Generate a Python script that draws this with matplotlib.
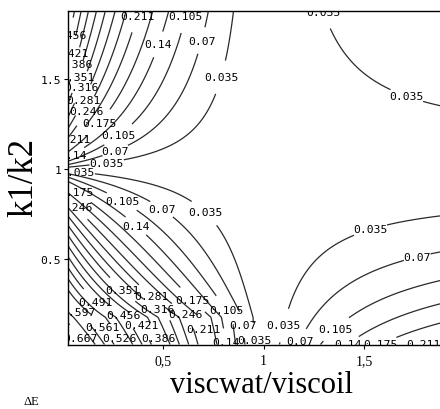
import numpy as np
import matplotlib
matplotlib.use("Agg")
import matplotlib.pyplot as plt

# ---- data -------------------------------------------------------------
levels = [0.035, 0.07, 0.105, 0.14, 0.175, 0.211, 0.246, 0.281, 0.316, 0.351,
          0.386, 0.421, 0.456, 0.491, 0.526, 0.561, 0.597, 0.632, 0.667]
level_labels = ["0.035", "0.07", "0.105", "0.14", "0.175", "0.211", "0.246", "0.281",
                "0.316", "0.351", "0.386", "0.421", "0.456", "0.491", "0.526", "0.561",
                "0.597", "0.632", "0.667"]
x_ticks = [0.5, 1.0, 1.5]
x_tick_labels = ["0,5", "1", "1,5"]
y_ticks = [0.5, 1.0, 1.5]
y_tick_labels = ["0.5", "1", "1.5"]
x_range = [0.027, 1.878]
y_range = [0.025, 1.881]

# surface model coefficients (fitted to where the picture's contours lie)
d_base = 0.08
d_r_coef_upper = 1.08
d_r_coef_lower = 1.22
d_r_pow = 0.65
d_x_coef = 1.05
d_x_rlim = 0.7


def delta_e(x, y):
    r = np.abs(1 - y) / (1 + y)
    c = np.where(y >= 1, d_r_coef_upper, d_r_coef_lower)
    k = d_x_coef * np.clip(1 - (r / d_x_rlim) ** 2, 0, None)
    d_left = d_base + c * r ** d_r_pow + k * x
    d_right = 2 * x
    d = np.where(x < 1, d_left, d_right)
    return np.abs(1 - x) * r / d


# where each level's labels sit (layout only)
label_spots = {
    0.035: [(0.79, 1.51), (0.22, 1.04), (0.075, 0.985), (0.70, 0.75), (0.95, 0.05),
            (1.105, 0.13), (1.53, 0.67), (1.71, 1.40), (1.26, 1.855)],
    0.07: [(0.675, 1.72), (0.26, 1.11), (0.495, 0.78), (0.85, 0.13), (1.18, 0.045),
           (1.76, 0.53), (1.80, 1.855)],
    0.105: [(0.595, 1.855), (0.285, 1.18), (0.30, 0.83), (0.78, 0.19), (1.345, 0.13)],
    0.14: [(0.485, 1.69), (0.05, 1.08), (0.385, 0.71), (0.82, 0.04), (1.405, 0.045)],
    0.175: [(0.20, 1.24), (0.10, 0.92), (0.635, 0.26), (1.54, 0.055)],
    0.211: [(0.36, 1.855), (0.08, 1.14), (0.67, 0.10), (1.73, 0.055)],
    0.246: [(0.125, 1.315), (0.10, 0.83), (0.595, 0.17)],
    0.281: [(0.10, 1.385), (0.45, 0.30)],
    0.316: [(0.11, 1.445), (0.47, 0.22)],
    0.351: [(0.10, 1.505), (0.325, 0.36)],
    0.386: [(0.105, 1.57), (0.47, 0.055)],
    0.421: [(0.03, 1.65), (0.385, 0.13)],
    0.456: [(0.03, 1.75), (0.32, 0.22)],
    0.491: [(0.186, 0.29)],
    0.526: [(0.275, 0.055)],
    0.561: [(0.21, 0.13)],
    0.597: [(0.075, 0.20)],
    0.667: [(0.085, 0.055)],
}

# ---- figure -----------------------------------------------------------
fig = plt.figure(figsize=(4.4, 4.1), dpi=100)
ax = fig.add_axes([68 / 440, 64.5 / 410, 1 - 68 / 440, 334 / 410])

xs = np.linspace(x_range[0], 1.95, 800)
ys = np.linspace(y_range[0], 1.95, 800)
X, Y = np.meshgrid(xs, ys)
Z = delta_e(X, Y)

cs = ax.contour(X, Y, Z, levels=levels, colors="#2a2a2a", linewidths=0.9)
ax.set_xlim(*x_range)
ax.set_ylim(*y_range)

# snap every label spot onto its own level's line (in screen space)
snapped = []
paths = cs.get_paths()
for lev, spots in label_spots.items():
    idx = int(np.argmin(np.abs(np.asarray(cs.levels) - lev)))
    verts = paths[idx].vertices
    if len(verts) == 0:
        continue
    vd = ax.transData.transform(verts)
    for sx, sy in spots:
        p = ax.transData.transform((sx, sy))
        k = int(np.argmin(np.hypot(vd[:, 0] - p[0], vd[:, 1] - p[1])))
        snapped.append(tuple(verts[k]))

fmt = dict(zip(cs.levels, level_labels))
ax.clabel(cs, fmt=fmt, manual=snapped, inline=True, inline_spacing=1,
          fontsize=8.2, colors="black")
for t in cs.labelTexts:
    t.set_fontfamily("DejaVu Sans Mono")
    t.set_rotation(0)
    t.set_clip_on(True)

ax.spines["right"].set_visible(False)
for s in ("left", "top", "bottom"):
    ax.spines[s].set_linewidth(1.0)
    ax.spines[s].set_color("black")

ax.set_xticks(x_ticks)
ax.set_xticklabels(x_tick_labels, fontfamily="Liberation Serif", fontsize=10)
ax.set_yticks(y_ticks)
ax.set_yticklabels(y_tick_labels, fontfamily="DejaVu Sans Mono", fontsize=8.2)
ax.tick_params(direction="out", length=3, width=0.8, pad=2)
ax.tick_params(axis="x", pad=4)

fig.text(261 / 440, 1 - 386 / 410, "viscwat/viscoil", fontfamily="Liberation Serif",
         fontsize=22, ha="center", va="center")
fig.text(24 / 440, 1 - 178 / 410, "k1/k2", fontfamily="Liberation Serif",
         fontsize=25, ha="center", va="center", rotation=90)
fig.text(31 / 440, 1 - 402 / 410, "ΔE", fontfamily="Liberation Serif",
         fontsize=9, ha="center", va="center")

fig.savefig("out.png", dpi=100)
